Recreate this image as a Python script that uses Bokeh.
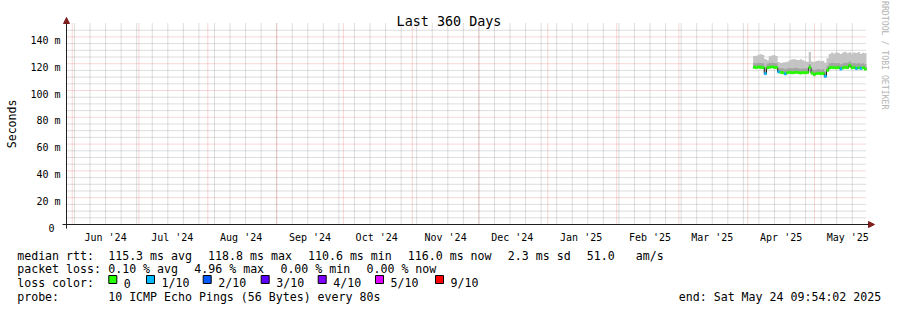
import calendar
import math
from datetime import datetime

import pandas as pd
from bokeh.plotting import figure
from bokeh.models import Range1d, Arrow, NormalHead
from bokeh.core.properties import value
from bokeh.embed import file_html
from bokeh.resources import INLINE

# ---------------- data ----------------
title_text = "Last 360 Days"
period_start = "2024-05-29 09:54:02"
period_end = "2025-05-24 09:54:02"
first_step = "2025-04-03 09:54:02"          # first daily step that holds data

y_ticks = [0, 20, 40, 60, 80, 100, 120, 140]
y_tick_labels = ["0\u00a0", "20 m", "40 m", "60 m", "80 m", "100 m", "120 m", "140 m"]
y_minor = [v for v in range(5, 150, 5) if v % 20 != 0]
month_labels = ["Jun '24", "Jul '24", "Aug '24", "Sep '24", "Oct '24", "Nov '24",
                "Dec '24", "Jan '25", "Feb '25", "Mar '25", "Apr '25", "May '25"]

# median rtt per day (ms)
median_ms = [117.4, 117.2, 117.5, 117.3, 117.1, 112.6, 117.0, 117.4, 117.6, 117.3, 117.2,
             113.9, 113.5, 113.2, 112.4, 113.3, 113.6, 113.2, 113.4, 113.7, 113.3, 113.1, 113.4, 113.2, 113.5,
             117.2, 113.0, 111.9, 112.7, 112.9, 112.5, 112.8, 110.6,
             115.1, 117.0, 117.2, 117.1, 116.9, 117.2, 116.1, 117.0, 117.3, 117.1, 118.8, 117.0, 117.2,
             116.4, 117.1, 116.5, 117.0, 116.0]
# lost pings (out of 10) per day
loss_count = [0, 0, 0, 0, 0, 1, 0, 0, 0, 0, 0,
              1, 0, 0, 1, 0, 0, 0, 0, 0, 0, 0, 0, 0, 0,
              0, 0, 0, 0, 0, 0, 0, 1,
              0, 0, 0, 0, 0, 0, 1, 0, 0, 0, 0, 0, 0, 1, 0, 1, 0, 0]
# smoke: slowest ping, upper edge of dense smoke, fastest ping (ms)
smoke_max_ms = [125.8, 126.0, 126.6, 127.0, 126.4, 123.6, 122.6, 125.6, 126.2, 126.5, 125.8,
                121.2, 120.6, 120.9, 121.0, 121.4, 122.6, 123.2, 123.6, 123.0, 122.8, 123.4, 122.5, 121.8, 121.5,
                128.8, 121.6, 121.2, 122.0, 122.4, 121.8, 122.2, 120.8,
                124.0, 127.2, 128.4, 127.6, 128.6, 128.0, 127.2, 128.4, 128.9, 127.8, 128.5, 127.6, 128.3,
                127.9, 128.7, 127.4, 128.1, 127.8]
smoke_inner_ms = [120.6, 120.4, 120.7, 120.5, 120.3, 117.8, 120.2, 120.6, 120.8, 120.5, 120.4,
                  117.0, 116.6, 116.4, 115.8, 116.5, 116.8, 116.5, 116.7, 116.9, 116.5, 116.3, 116.6, 116.4, 116.7,
                  119.8, 116.2, 115.3, 115.9, 116.1, 115.7, 116.0, 114.2,
                  118.3, 120.4, 120.7, 120.5, 120.3, 120.6, 119.6, 120.4, 120.8, 120.5, 121.6, 120.4, 120.6,
                  119.9, 120.5, 120.0, 120.4, 119.6]
smoke_min_ms = [116.6, 116.4, 116.7, 116.5, 116.3, 111.8, 116.2, 116.6, 116.8, 116.5, 116.4,
                113.1, 112.7, 112.4, 111.6, 112.5, 112.8, 112.4, 112.6, 112.9, 112.5, 112.3, 112.6, 112.4, 112.7,
                116.0, 112.2, 111.1, 111.9, 112.1, 111.7, 112.0, 109.8,
                114.3, 116.2, 116.4, 116.3, 116.1, 116.4, 115.3, 116.2, 116.5, 116.3, 117.4, 116.2, 116.4,
                115.6, 116.3, 115.7, 116.2, 115.2]

loss_labels = ["0", "1/10", "2/10", "3/10", "4/10", "5/10", "9/10"]
loss_colors = ["#26ff00", "#00b8ff", "#0059ff", "#5e00ff", "#7e00ff", "#dd00ff", "#ff0000"]

stats_rtt = ["115.3 ms avg", "118.8 ms max", "110.6 ms min", "116.0 ms now", "2.3 ms sd", "51.0", "am/s"]
stats_loss = ["0.10 % avg", "4.96 % max", "0.00 % min", "0.00 % now"]
probe_text = "10 ICMP Echo Pings (56 Bytes) every 80s"
end_text = "end: Sat May 24 09:54:02 2025"
watermark = "RRDTOOL / TOBI OETIKER"

# ---------------- helpers ----------------
FMT = "%Y-%m-%d %H:%M:%S"
DAY = 86400000


def to_ms(s):
    return calendar.timegm(datetime.strptime(s, FMT).timetuple()) * 1000


start_ms = to_ms(period_start)
end_ms = to_ms(period_end)
first_ms = to_ms(first_step)

W, H = 897, 310
FL, FR, FT, FB = 66, 866, 27, 228   # graph area edges in canvas pixels
DY = 4.0                            # compensates the page's vertical offset
Y_MAX = 150
ms_per_px = (end_ms - start_ms) / (FR - FL)
val_per_px = Y_MAX / (FB - FT)

n = len(median_ms)
edges = [min(first_ms + i * DAY, end_ms) for i in range(n + 1)]


def step(vals):
    xs, ys = [], []
    for i, v in enumerate(vals):
        xs += [edges[i], edges[i + 1]]
        ys += [v, v]
    return xs, ys


def loss_color(c):
    if c >= 9:
        return loss_colors[6]
    if c >= 5:
        return loss_colors[5]
    return loss_colors[c]


month_starts = pd.date_range("2024-06-01", "2025-05-01", freq="MS")
month_ms = [int(t.value // 10**6) for t in month_starts]
label_ms = [m + 15 * DAY for m in month_ms]
sundays = pd.date_range("2024-06-02", "2025-05-24", freq="7D")
sunday_ms = [int(t.value // 10**6) for t in sundays]

FONT = value("DejaVu Sans Mono")

# ---------------- figure: frame = whole canvas, pixel ranges + data ranges ----------------
p = figure(width=W, height=H, output_backend="svg", toolbar_location=None, title=None,
           x_range=Range1d(0, W), y_range=Range1d(H + DY, DY),
           min_border=0, min_border_left=0, min_border_right=0,
           min_border_top=0, min_border_bottom=0,
           background_fill_color="white", border_fill_color="white",
           outline_line_color=None, x_axis_location=None, y_axis_location=None)
p.grid.visible = False
p.extra_x_ranges = {"t": Range1d(start_ms - FL * ms_per_px, start_ms + (W - FL) * ms_per_px)}
p.extra_y_ranges = {"v": Range1d((FB - H - DY) * val_per_px, (FB - DY) * val_per_px)}

DT = dict(x_range_name="t", y_range_name="v")

# grid
MINOR = dict(line_color="#909090", line_alpha=0.6, line_dash="1 1", line_width=1)
MAJOR = dict(line_color="#e05050", line_alpha=0.45, line_dash="1 1", line_width=1)
p.segment(x0=sunday_ms, x1=sunday_ms, y0=0, y1=Y_MAX, **DT, **MINOR)
p.segment(x0=start_ms, x1=end_ms, y0=y_minor, y1=y_minor, **DT, **MINOR)
p.segment(x0=month_ms, x1=month_ms, y0=0, y1=Y_MAX, **DT, **MAJOR)
p.segment(x0=start_ms, x1=end_ms, y0=y_ticks, y1=y_ticks, **DT, **MAJOR)

# smoke
xs, top = step(smoke_max_ms)
_, inner = step(smoke_inner_ms)
_, low = step(smoke_min_ms)
p.varea(x=xs, y1=low, y2=top, fill_color="#c4c4c4", **DT)
p.varea(x=xs, y1=low, y2=inner, fill_color="#a4a4a4", **DT)

# median: dark base line + loss coloured band
_, med = step(median_ms)
p.line(x=xs, y=med, line_color="#202020", line_width=1, **DT)
cols = [loss_color(c) for c in loss_count]
p.quad(left=edges[:-1], right=edges[1:],
       bottom=[m - 0.9 for m in median_ms], top=[m + 0.9 for m in median_ms],
       fill_color=cols, line_color=cols, line_width=0.4, **DT)

# axes with arrow heads (canvas pixels)
AX = "#1f1f1f"
ARW = "#801f1f"
p.add_layout(Arrow(end=NormalHead(size=6, fill_color=ARW, line_color=ARW),
                   x_start=FL - 4, y_start=FB, x_end=FR + 8, y_end=FB,
                   line_color=AX, line_width=1))
p.add_layout(Arrow(end=NormalHead(size=6, fill_color=ARW, line_color=ARW),
                   x_start=FL, y_start=FB + 4, x_end=FL, y_end=FT - 6,
                   line_color=AX, line_width=1))

# tick labels
p.text(x=[FL - 6] * len(y_ticks), y=y_ticks, text=y_tick_labels, y_range_name="v",
       text_font=FONT, text_font_size=value("10px"), text_align="right",
       text_baseline="alphabetic", y_offset=3.6, text_color="black")
p.text(x=label_ms, y=[240.7] * len(label_ms), text=month_labels, x_range_name="t",
       text_font=FONT, text_font_size=value("10px"), text_align="center",
       text_baseline="alphabetic", text_color="black")

# axis title, chart title, watermark
p.text(x=[11.5], y=[127.4], text=["Seconds"], angle=math.pi / 2,
       text_font=FONT, text_font_size=value("11.6px"), text_align="center",
       text_baseline="alphabetic", text_color="black")
p.text(x=[448.5], y=[24.5], text=[title_text], text_font=FONT,
       text_font_size=value("13.4px"), text_align="center",
       text_baseline="alphabetic", text_color="black")
p.text(x=[884.5], y=[4.5], text=[watermark], angle=-math.pi / 2, text_font=FONT,
       text_font_size=value("8.2px"), text_align="left",
       text_baseline="alphabetic", text_color="#b4b4b4")

# legend block
L1, L2, L3, L4 = 259.0, 272.9, 286.8, 300.7
leg_text, leg_x, leg_y = [], [], []


def put(s, xp, yp):
    leg_text.append(s)
    leg_x.append(xp)
    leg_y.append(yp)


put("median rtt:", 16.7, L1)
for s, xp in zip(stats_rtt, [107.7, 207.6, 307.5, 407.3, 507.3, 586.3, 635.3]):
    put(s, xp, L1)
put("packet loss:", 16.7, L2)
for s, xp in zip(stats_loss, [107.7, 193.8, 279.9, 366.0]):
    put(s, xp, L2)
put("loss color:", 16.7, L3)
sq_x = [108.3, 146.0, 202.7, 260.7, 317.7, 375.0, 435.0]
for s, xp in zip(loss_labels, sq_x):
    put(s, xp + 15, L3)
put("probe:", 16.7, L4)
put(probe_text, 107.7, L4)
put(end_text, 678.3, L4)

p.text(x=leg_x, y=leg_y, text=leg_text, text_font=FONT, text_font_size=value("11.6px"),
       text_align="left", text_baseline="alphabetic", text_color="black")
p.rect(x=[xp + 4 for xp in sq_x], y=[283.0] * len(sq_x), width=8, height=8,
       fill_color=loss_colors, line_color="black", line_width=1)

open("out.html", "w").write(file_html(p, INLINE))
